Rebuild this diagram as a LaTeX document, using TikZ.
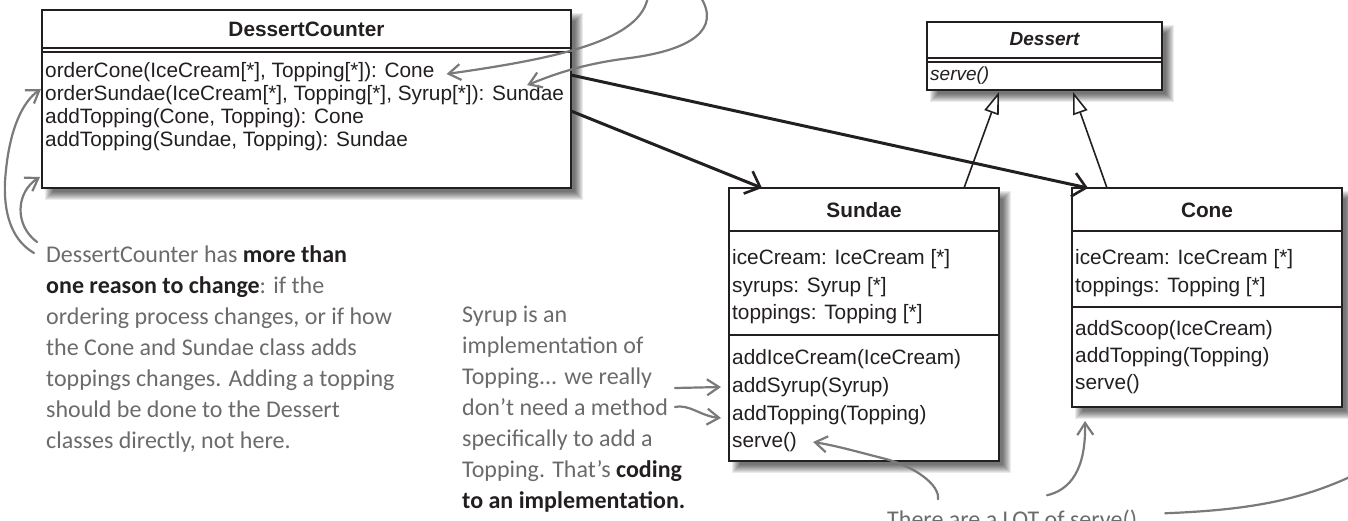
\documentclass[tikz,border=0pt]{standalone}
\usepackage{fontspec}
\setmainfont{Liberation Sans}
\newfontfamily\handfont{Carlito}
\usetikzlibrary{arrows.meta,calc}
\definecolor{ink}{HTML}{231F20}
\definecolor{pencil}{HTML}{6B6B6B}
\definecolor{pencilline}{HTML}{7A7A7A}
\newcommand\inkbold[1]{{\color{ink}\bfseries #1}}
\newcommand\softshadow[4]{%
  \foreach \i in {0,...,8}{%
    \fill[black,opacity=0.08] (#1+3+\i,#2+3+\i) rectangle (#3+12-\i,#4+12-\i);}}
\tikzset{
  umlbox/.style={draw=ink, line width=2.6pt, fill=white, inner sep=0pt, outer sep=0pt},
  sepline/.style={draw=ink, line width=2pt},
  umltext/.style={anchor=west, inner sep=0pt, text=ink, font=\fontsize{20.8}{24}\selectfont},
  umltitle/.style={inner sep=0pt, text=ink, font=\fontsize{20.8}{24}\selectfont\bfseries},
  note/.style={anchor=north west, inner sep=0pt, align=left, text=pencil, font=\handfont\fontsize{24}{31}\selectfont},
  assoc/.style={draw=ink, line width=3pt, -{Straight Barb[length=13pt,width=24pt,line width=2.6pt]}},
  inherit/.style={draw=ink, line width=1.6pt, -{Triangle[length=22pt,width=15pt,fill=white,line width=1.6pt]}},
  handarrow/.style={draw=pencilline, line width=2.2pt, line cap=round, -{Straight Barb[length=12pt,width=16pt,line width=2.2pt]}},
  handline/.style={draw=pencilline, line width=2.2pt, line cap=round},
}
\begin{document}
\begin{tikzpicture}[x=1pt,y=-1pt]
\useasboundingbox (0,0) rectangle (1348,520);
\fill[white] (0,0) rectangle (1348,520);

% shadows
\softshadow{42}{10}{571}{188}
\softshadow{927}{22}{1162}{90}
\softshadow{729}{188}{999}{461}
\softshadow{1072}{188}{1342}{407}

% DessertCounter
\node[umlbox, minimum width=529pt, minimum height=178pt, anchor=north west] (dc) at (42,10) {};
\draw[sepline] (42,48) -- (571,48);
\draw[sepline] (42,52) -- (571,52);
\node[umltitle] (dct) at (306.5,29) {DessertCounter};
\node[umltext] (dc1) at (45,72) {orderCone(IceCream[*], Topping[*]): Cone};
\node[umltext] (dc2) at (45,95) {orderSundae(IceCream[*], Topping[*], Syrup[*]): Sundae};
\node[umltext] (dc3) at (45,118) {addTopping(Cone, Topping): Cone};
\node[umltext] (dc4) at (45,141) {addTopping(Sundae, Topping): Sundae};

% Dessert
\node[umlbox, minimum width=235pt, minimum height=68pt, anchor=north west] (dessert) at (927,22) {};
\draw[sepline] (927,58) -- (1162,58);
\draw[sepline] (927,62) -- (1162,62);
\node[umltitle, font=\fontsize{19}{22}\selectfont\bfseries\itshape] (dst) at (1044.5,39) {Dessert};
\node[umltext, font=\fontsize{19}{22}\selectfont\itshape] (ds1) at (930,76) {serve()};

% Sundae
\node[umlbox, minimum width=270pt, minimum height=273pt, anchor=north west] (sundae) at (729,188) {};
\draw[sepline] (729,231) -- (999,231);
\draw[sepline] (729,335) -- (999,335);
\node[umltitle] (sut) at (864,210) {Sundae};
\node[umltext] (s1) at (732,259) {iceCream: IceCream [*]};
\node[umltext] (s2) at (732,287) {syrups: Syrup [*]};
\node[umltext] (s3) at (732,314) {toppings: Topping [*]};
\node[umltext] (s5) at (732,359) {addIceCream(IceCream)};
\node[umltext] (s6) at (732,387) {addSyrup(Syrup)};
\node[umltext] (s7) at (732,415) {addTopping(Topping)};
\node[umltext] (s8) at (732,442) {serve()};

% Cone
\node[umlbox, minimum width=270pt, minimum height=219pt, anchor=north west] (cone) at (1072,188) {};
\draw[sepline] (1072,231) -- (1342,231);
\draw[sepline] (1072,307) -- (1342,307);
\node[umltitle] (cot) at (1207,210) {Cone};
\node[umltext] (c1) at (1075,259) {iceCream: IceCream [*]};
\node[umltext] (c2) at (1075,287) {toppings: Topping [*]};
\node[umltext] (c3) at (1075,330) {addScoop(IceCream)};
\node[umltext] (c4) at (1075,357) {addTopping(Topping)};
\node[umltext] (c5) at (1075,384) {serve()};

% associations
\draw[assoc] ($(dc.north east)+(0,101)$) -- ($(sundae.north west)+(33,0)$);
\draw[assoc] ($(dc.north east)+(0,65)$) -- ($(cone.north west)+(16,0)$);

% inheritance
\draw[inherit] ($(sundae.north west)+(235,0)$) -- ($(dessert.south west)+(72,2)$);
\draw[inherit] ($(cone.north west)+(35,0)$) -- ($(dessert.south west)+(146,2)$);

% notes
\node[note] (n1) at (46,245) {DessertCounter has \inkbold{more than}\\\inkbold{one reason to change}: if the\\ordering process changes, or if how\\the Cone and Sundae class adds\\toppings changes. Adding a topping\\should be done to the Dessert\\classes directly, not here.};
\node[note] (n2) at (462,306) {Syrup is an\\implementation of\\Topping... we really\\don’t need a method\\specifically to add a\\Topping. That’s \inkbold{coding}\\\inkbold{to an implementation.}};
\node[anchor=base west, inner sep=0pt, text=pencil, font=\handfont\fontsize{24}{31}\selectfont] (bt) at (887,527) {There are a LOT of serve()};

% hand-drawn arrows
\coordinate (topA) at (648,-4);
\coordinate (topB) at (700,-4);
\coordinate (farR) at (1352,476);
\draw[handarrow] (topA) .. controls (642,40) and (560,58) .. ($(dc1.east)+(12,2)$);
\draw[handarrow] (topB) .. controls (722,30) and (690,50) .. (630,58) .. controls (580,64) and (550,76) .. ($(dc2.north east)+(-37,0)$);
\draw[handarrow] ($(n1.north west)+(-12,8)$) .. controls (8,238) and (2,205) .. (6,170) .. controls (10,130) and (22,102) .. ($(dc2.west)+(-4,-6)$);
\draw[handarrow] ($(n1.north west)+(-9,-3)$) .. controls (14,225) and (16,192) .. ($(dc.south west)+(-2,-11)$);
\draw[handarrow] ($(n2.north west)+(213,82)$) -- ($(s6.west)+(-11,0)$);
\draw[handarrow] ($(n2.north west)+(213,101)$) .. controls (690,404) and (700,416) .. ($(s7.west)+(-11,3)$);
\draw[handarrow] ($(bt.north west)+(160,-14)$) .. controls (1070,490) and (1086,470) .. ($(cone.south west)+(13,14)$);
\draw[handarrow] ($(bt.north west)+(51,-10)$) .. controls (940,485) and (915,466) .. (882,458) .. controls (858,452) and (838,446) .. ($(s8.east)+(16,0)$);
\draw[handline] ($(bt.north east)+(28,4)$) .. controls (1250,510) and (1300,500) .. (farR);
\end{tikzpicture}
\end{document}
